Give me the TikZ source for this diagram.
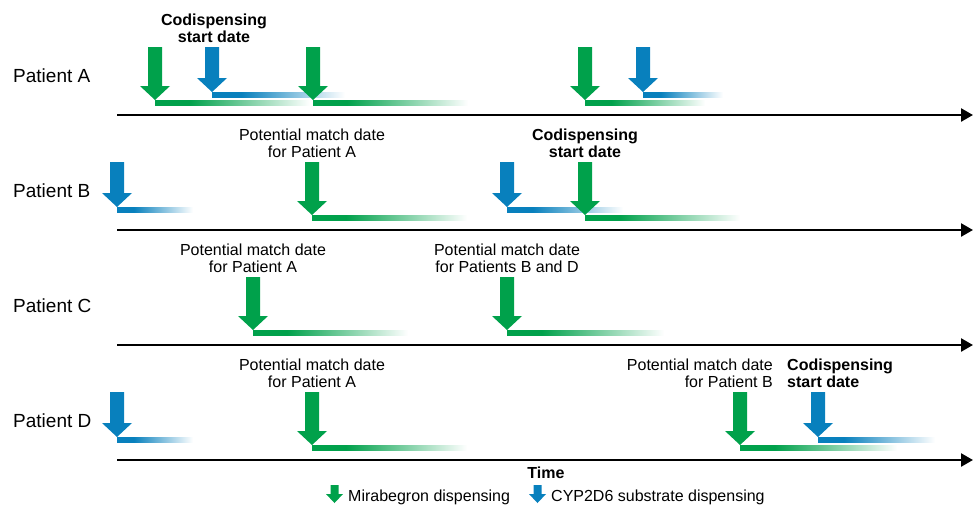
\documentclass[tikz,border=0pt]{standalone}
\usepackage{fontspec}
\setmainfont{Liberation Sans}
\usetikzlibrary{arrows.meta}
\definecolor{mgreen}{RGB}{0,161,75}
\definecolor{cblue}{RGB}{8,128,189}
\pgfdeclarehorizontalshading{gfade}{100bp}{color(0bp)=(mgreen); color(25bp)=(mgreen); color(36bp)=(mgreen); color(75bp)=(white); color(100bp)=(white)}
\pgfdeclarehorizontalshading{bfade}{100bp}{color(0bp)=(cblue); color(25bp)=(cblue); color(36bp)=(cblue); color(75bp)=(white); color(100bp)=(white)}
\begin{document}
\begin{tikzpicture}[x=1pt,y=-1pt,
  garrow/.pic={\fill[mgreen] (0,0) -- (15,-14) -- (7,-14) -- (7,-53) -- (-7,-53) -- (-7,-14) -- (-15,-14) -- cycle;},
  barrow/.pic={\fill[cblue] (0,0) -- (15,-14) -- (7,-14) -- (7,-45) -- (-7,-45) -- (-7,-14) -- (-15,-14) -- cycle;},
  lgarrow/.pic={\fill[mgreen] (0,0) -- (8.5,-9) -- (4,-9) -- (4,-18) -- (-4,-18) -- (-4,-9) -- (-8.5,-9) -- cycle;},
  lbarrow/.pic={\fill[cblue] (0,0) -- (8.5,-9) -- (4,-9) -- (4,-18) -- (-4,-18) -- (-4,-9) -- (-8.5,-9) -- cycle;},
  axisline/.style={line width=2.5pt, -{Triangle[length=12pt,width=13pt]}},
  patient/.style={font=\fontsize{19}{22}\selectfont, inner sep=0pt, anchor=west},
  lbl/.style={font=\fontsize{16}{17.5}\selectfont, align=center, inner sep=0pt},
  blbl/.style={font=\fontsize{16}{17.5}\selectfont\bfseries, align=center, inner sep=0pt},
  leg/.style={font=\fontsize{16}{19}\selectfont, inner sep=0pt, anchor=base west}
]
\useasboundingbox (0,0) rectangle (974,504);

% ---------- bars (gradients) ----------
\newcommand\gbar[3]{\shade[shading=gfade] (#1,#2-14.5) rectangle (#1+#3,#2-9.5);}
\newcommand\bbar[3]{\shade[shading=bfade] (#1,#2-22.5) rectangle (#1+#3,#2-18);}
% Row A
\gbar{155}{115}{155}
\gbar{313}{115}{155}
\gbar{585}{115}{120}
\bbar{212}{115}{133}
\bbar{643}{115}{80}
% Row B
\bbar{117}{230}{76}
\gbar{312}{230}{155}
\bbar{507}{230}{116}
\gbar{585}{230}{155}
% Row C
\gbar{253}{345}{155}
\gbar{507}{345}{157}
% Row D
\bbar{117}{460}{76}
\gbar{312}{460}{155}
\gbar{740}{460}{157}
\bbar{818}{460}{117}

% ---------- arrows ----------
% Row A
\pic (aG1) at (155,100) {garrow};
\pic (aB1) at (212,92) {barrow};
\pic (aG2) at (313,100) {garrow};
\pic (aG3) at (585,100) {garrow};
\pic (aB2) at (643,92) {barrow};
% Row B
\pic (bB1) at (117,207) {barrow};
\pic (bG1) at (312,215) {garrow};
\pic (bB2) at (507,207) {barrow};
\pic (bG2) at (585,215) {garrow};
% Row C
\pic (cG1) at (253,330) {garrow};
\pic (cG2) at (507,330) {garrow};
% Row D
\pic (dB1) at (117,437) {barrow};
\pic (dG1) at (312,445) {garrow};
\pic (dG2) at (740,445) {garrow};
\pic (dB2) at (818,437) {barrow};

% ---------- axes ----------
\coordinate (axA0) at (117,115); \coordinate (axA1) at (973,115);
\coordinate (axB0) at (117,230); \coordinate (axB1) at (973,230);
\coordinate (axC0) at (117,345); \coordinate (axC1) at (973,345);
\coordinate (axD0) at (117,460); \coordinate (axD1) at (973,460);
\draw[axisline] (axA0) -- (axA1);
\draw[axisline] (axB0) -- (axB1);
\draw[axisline] (axC0) -- (axC1);
\draw[axisline] (axD0) -- (axD1);

% ---------- patient labels ----------
\node[patient] (pA) at (13,76) {Patient A};
\node[patient] (pB) at (13,191) {Patient B};
\node[patient] (pC) at (13,306) {Patient C};
\node[patient] (pD) at (13,421) {Patient D};

% ---------- annotations ----------
\node[blbl] (tA) at (214,28.5) {Codispensing\\start date};
\node[lbl] (tB1) at (312,143.5) {Potential match date\\for Patient A};
\node[blbl] (tB2) at (585,143.5) {Codispensing\\start date};
\node[lbl] (tC1) at (253,258.5) {Potential match date\\for Patient A};
\node[lbl] (tC2) at (507,258.5) {Potential match date\\for Patients B and D};
\node[lbl] (tD1) at (312,373.5) {Potential match date\\for Patient A};
\node[lbl, align=right, anchor=east] (tD2) at (773,373.5) {Potential match date\\for Patient B};
\node[blbl, align=left, anchor=west] (tD3) at (787,373.5) {Codispensing\\start date};

% ---------- time and legend ----------
\node[blbl] (time) at (546,473) {Time};
\pic (lgG) at (334.5,503) {lgarrow};
\node[leg] (legG) at (348,501.5) {Mirabegron dispensing};
\pic (lgB) at (537.5,503) {lbarrow};
\node[leg] (legB) at (551,501.5) {CYP2D6 substrate dispensing};
\end{tikzpicture}
\end{document}
